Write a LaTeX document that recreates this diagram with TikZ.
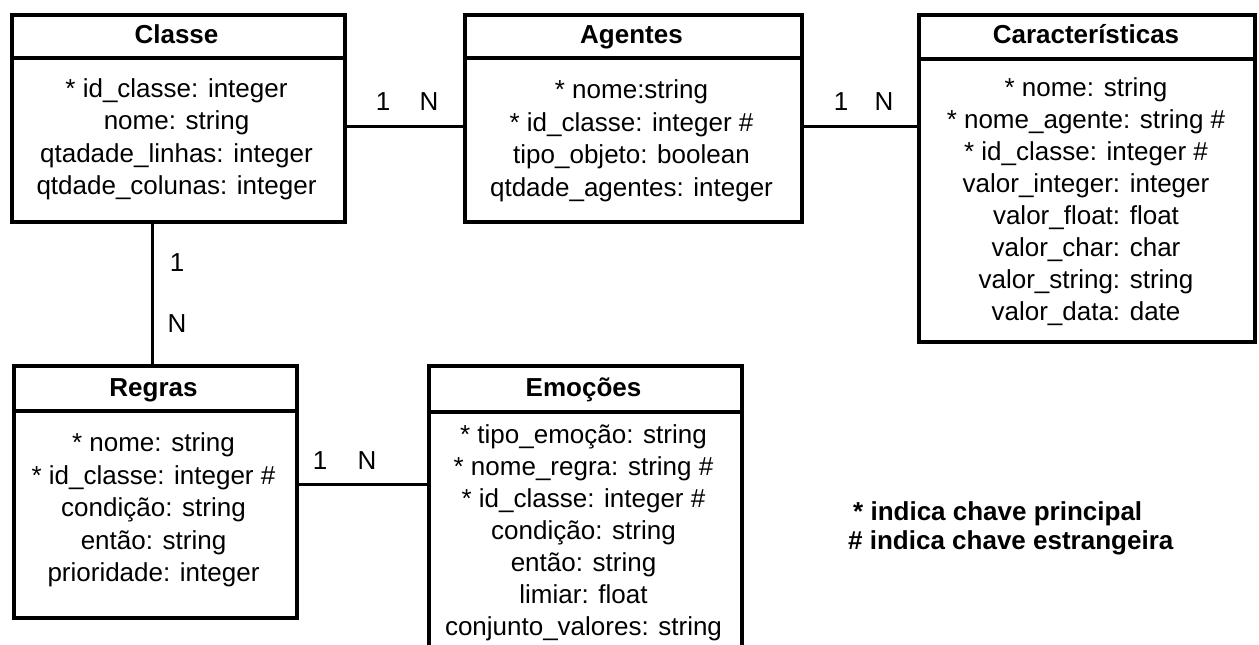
\documentclass[tikz,border=0pt]{standalone}
\usepackage{fontspec}
\setmainfont{Liberation Sans}
\begin{document}
\begin{tikzpicture}[x=1pt,y=-1pt,
  box/.style={draw, line width=4pt, anchor=north west, inner sep=0pt},
  sep/.style={line width=4pt},
  link/.style={line width=3pt},
  title/.style={font=\fontsize{26}{30}\selectfont\bfseries, anchor=base, inner sep=0pt},
  body/.style={font=\fontsize{26}{32.5}\selectfont, align=center, inner sep=0pt},
  tight/.style={font=\fontsize{26}{32}\selectfont},
  card/.style={font=\fontsize{26}{30}\selectfont, inner sep=0pt},
  legend/.style={font=\fontsize{26}{30}\selectfont\bfseries, anchor=west, inner sep=0pt}]
\useasboundingbox (0,0) rectangle (1259,645);
\clip (0,0) rectangle (1259,645);

% Classe
\node[box, minimum width=333pt, minimum height=207pt] (classe) at (10,13) {};
\draw[sep] (classe.west |- 0,58) -- (classe.east |- 0,58);
\node[title] (classeT) at (176.5,43) {Classe};
\node[body] (classeB) at (176.5,139.5) {* id\_classe: integer\\nome: string\\qtadade\_linhas: integer\\qtdade\_colunas: integer};

% Agentes
\node[box, minimum width=337pt, minimum height=207pt] (agentes) at (463,13) {};
\draw[sep] (agentes.west |- 0,58) -- (agentes.east |- 0,58);
\node[title] (agentesT) at (631.5,43) {Agentes};
\node[body] (agentesB) at (631.5,141) {* nome:string\\* id\_classe: integer \#\\tipo\_objeto: boolean\\qtdade\_agentes: integer};

% Caracteristicas
\node[box, minimum width=336pt, minimum height=327pt] (carac) at (917,13) {};
\draw[sep] (carac.west |- 0,59) -- (carac.east |- 0,59);
\node[title] (caracT) at (1086,43) {Características};
\node[body, tight] (caracB) at (1086,201.5) {* nome: string\\* nome\_agente: string \#\\* id\_classe: integer \#\\valor\_integer: integer\\valor\_float: float\\valor\_char: char\\valor\_string: string\\valor\_data: date};

% Regras
\node[box, minimum width=283pt, minimum height=252pt] (regras) at (12,364) {};
\draw[sep] (regras.west |- 0,411) -- (regras.east |- 0,411);
\node[title] (regrasT) at (153.5,396) {Regras};
\node[body] (regrasB) at (153.5,510) {* nome: string\\* id\_classe: integer \#\\condição: string\\então: string\\prioridade: integer};

% Emocoes
\node[box, minimum width=313pt, minimum height=320pt] (emocoes) at (427,364) {};
\draw[sep] (emocoes.west |- 0,412) -- (emocoes.east |- 0,412);
\node[title] (emocoesT) at (583.5,396) {Emoções};
\node[body, tight] (emocoesB) at (583.5,532.5) {* tipo\_emoção: string\\* nome\_regra: string \#\\* id\_classe: integer \#\\condição: string\\então: string\\limiar: float\\conjunto\_valores: string};

% Relationships
\draw[link] (classe.east |- 0,126) -- (agentes.west |- 0,126);
\draw[link] (agentes.east |- 0,126) -- (carac.west |- 0,126);
\draw[link] (classe.south -| 152,0) -- (regras.north -| 152,0);
\draw[link] (regras.east |- 0,484) -- (emocoes.west |- 0,484);

% Cardinalities
\node[card] (c1a) at (383,102) {1};
\node[card] (c1b) at (429,102) {N};
\node[card] (c2a) at (841,102) {1};
\node[card] (c2b) at (884,102) {N};
\node[card] (c3a) at (177,263) {1};
\node[card] (c3b) at (177,324) {N};
\node[card] (c4a) at (320,461) {1};
\node[card] (c4b) at (367,461) {N};

% Key legend
\node[legend] (keyA) at (853,514) {* indica chave principal};
\node[legend] (keyB) at (848,543) {\# indica chave estrangeira};
\end{tikzpicture}
\end{document}
